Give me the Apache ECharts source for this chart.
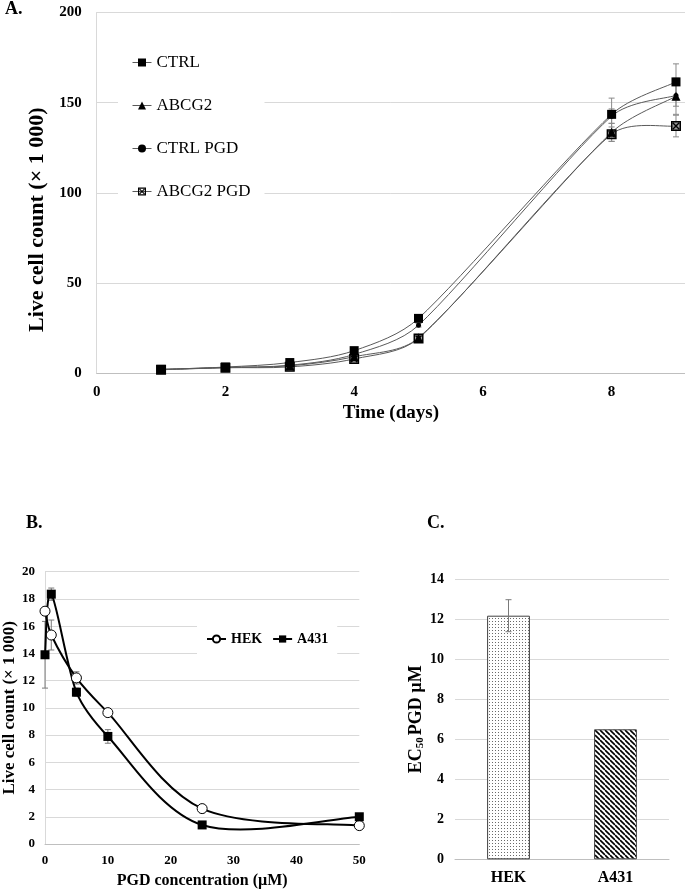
<!DOCTYPE html>
<html><head><meta charset="utf-8">
<script src="https://cdn.jsdelivr.net/npm/echarts@6/dist/echarts.min.js"></script>
<style>html,body{margin:0;padding:0;background:#fff}#c{width:685px;height:890px}</style>
</head><body><div id="c"></div>
<script>
const FONT = "'Times New Roman','Liberation Serif',serif";

// ---- Panel A data ----
const days = [1, 2, 3, 4, 5, 8, 9];
const ctrl      = [2.0, 3.3, 5.8, 12.4, 30.3, 143.5, 161.5];
const abcg2     = [1.9, 3.0, 4.0, 9.0, 19.5, 133.5, 153.5];
const ctrlPgd   = [2.0, 3.1, 4.3, 10.3, 26.5, 142.5, 154.0];
const abcg2Pgd  = [1.8, 2.9, 3.4, 7.8, 19.2, 132.5, 137.0];
const ctrlErr     = [0.3, 0.3, 0.5, 0.8, 1.5, 9, 10];
const abcg2Err    = [0.2, 0.2, 0.3, 0.5, 1.0, 5, 10];
const ctrlPgdErr  = [0.2, 0.2, 0.3, 0.5, 1.0, 4, 6];
const abcg2PgdErr = [0.2, 0.2, 0.3, 0.5, 1.0, 4, 6];
const aNames = ['CTRL', 'ABCG2', 'CTRL PGD', 'ABCG2 PGD'];

// ---- Panel B data ----
const conc = [0, 1, 5, 10, 25, 50];
const hek     = [17.1, 15.35, 12.2, 9.65, 2.6, 1.35];
const hekErr  = [0, 1.1, 0.45, 0.2, 0.3, 0.2];
const a431    = [13.9, 18.35, 11.15, 7.9, 1.4, 2.0];
const a431Err = [2.45, 0.45, 0.3, 0.5, 0.1, 0.1];
const bNames = ['HEK', 'A431'];

// ---- Panel C data ----
const cells = ['HEK', 'A431'];
const ec50 = [12.18, 6.5];
const ec50Err = [0.8, 0];

const XPATH = 'path://M0,0H10V10H0Z M1.5,1.5V8.5H8.5V1.5Z M1.5,2.5L2.5,1.5L8.5,7.5L7.5,8.5Z M7.5,1.5L8.5,2.5L2.5,8.5L1.5,7.5Z';

function pair(xs, ys) { return xs.map((x, i) => [x, ys[i]]); }
function errData(xs, ys, es) { return xs.map((x, i) => [x, ys[i] - es[i], ys[i] + es[i]]); }
function errSeries(xIdx, yIdx, data, color, capW) {
  return {
    type: 'custom', xAxisIndex: xIdx, yAxisIndex: yIdx, silent: true, z: 1,
    encode: { x: 0, y: [1, 2] },
    renderItem(params, api) {
      const x = api.value(0), lo = api.value(1), hi = api.value(2);
      const p1 = api.coord([x, lo]), p2 = api.coord([x, hi]);
      const style = { stroke: color, lineWidth: 1 };
      return { type: 'group', children: [
        { type: 'line', shape: { x1: p1[0], y1: p1[1], x2: p2[0], y2: p2[1] }, style },
        { type: 'line', shape: { x1: p1[0] - capW, y1: p1[1], x2: p1[0] + capW, y2: p1[1] }, style },
        { type: 'line', shape: { x1: p2[0] - capW, y1: p2[1], x2: p2[0] + capW, y2: p2[1] }, style }
      ] };
    },
    data
  };
}
// Smoothed connecting line: Bezier segments through the data points,
// Catmull-Rom tangent (next - prev)/6, handle capped at 1/3 of the segment.
function splineSeries(xIdx, yIdx, xs, ys, color, width) {
  return {
    type: 'custom', xAxisIndex: xIdx, yAxisIndex: yIdx, silent: true, z: 2,
    encode: { x: 0, y: 1 },
    data: pair(xs, ys),
    renderItem(params, api) {
      const i = params.dataIndexInside, n = params.dataInsideLength;
      if (i >= n - 1) return;
      const P = k => { k = Math.max(0, Math.min(n - 1, k)); return api.coord([api.value(0, k), api.value(1, k)]); };
      const p0 = P(i - 1), p1 = P(i), p2 = P(i + 1), p3 = P(i + 2);
      const seg = Math.hypot(p2[0] - p1[0], p2[1] - p1[1]) / 3;
      const handle = (a, b) => {
        const v = [(b[0] - a[0]) / 6, (b[1] - a[1]) / 6];
        const len = Math.hypot(v[0], v[1]) || 1;
        const s = Math.min(1, seg / len);
        return [v[0] * s, v[1] * s];
      };
      const t1 = handle(p0, p2), t2 = handle(p1, p3);
      const c1 = [p1[0] + t1[0], p1[1] + t1[1]];
      const c2 = [p2[0] - t2[0], p2[1] - t2[1]];
      return { type: 'bezierCurve',
        shape: { x1: p1[0], y1: p1[1], x2: p2[0], y2: p2[1], cpx1: c1[0], cpy1: c1[1], cpx2: c2[0], cpy2: c2[1] },
        style: { stroke: color, lineWidth: width, fill: null } };
    }
  };
}

function stipple() {
  const c = document.createElement('canvas'); c.width = c.height = 3;
  const g = c.getContext('2d'); g.fillStyle = '#fff'; g.fillRect(0, 0, 3, 3);
  g.fillStyle = '#6a6a6a'; g.fillRect(0, 0, 1, 1); return c;
}
function stripes() {
  const s = 5; const c = document.createElement('canvas'); c.width = c.height = s;
  const g = c.getContext('2d'); g.fillStyle = '#fff'; g.fillRect(0, 0, s, s);
  g.strokeStyle = '#000'; g.lineWidth = 1.6; g.beginPath();
  for (let k = -1; k <= 1; k++) { g.moveTo(0, k * s); g.lineTo(s, s + k * s); }
  g.stroke(); return c;
}
const patterns = [stipple(), stripes()];

const lbl = (size, extra) => Object.assign({ fontFamily: FONT, fontWeight: 'bold', fontSize: size, color: '#000' }, extra || {});
const gridLine = { show: true, lineStyle: { color: '#d9d9d9', width: 1 } };
const A_LINE = '#5a5a5a';

const aMarks = (name, data, symbol, size) => ({
  type: 'line', name, xAxisIndex: 0, yAxisIndex: 0, z: 4,
  data: pair(days, data), symbol, symbolSize: size, showSymbol: true,
  lineStyle: { color: A_LINE, width: 1, opacity: 0 }, itemStyle: { color: '#000' }
});

const option = {
  animation: false,
  backgroundColor: '#fff',
  textStyle: { fontFamily: FONT },
  grid: [
    { left: 96.7, top: 12.5, width: 588.3, height: 360.5 },
    { left: 42, top: 571.7, width: 317.3, height: 273.3 },
    { left: 455, top: 579.3, width: 214, height: 280 }
  ],
  xAxis: [
    { gridIndex: 0, type: 'value', min: 0, max: 9.14, interval: 2,
      axisLine: { lineStyle: { color: '#bfbfbf' } }, axisTick: { show: false }, splitLine: { show: false },
      axisLabel: lbl(15, { margin: 12, showMaxLabel: false }),
      name: 'Time (days)', nameLocation: 'middle', nameGap: 31, nameTextStyle: lbl(19) },
    { gridIndex: 1, type: 'value', min: 0, max: 50, interval: 10,
      axisLine: { lineStyle: { color: '#bfbfbf' } }, axisTick: { show: false }, splitLine: { show: false },
      axisLabel: lbl(13, { margin: 10 }),
      name: 'PGD concentration (µM)', nameLocation: 'middle', nameGap: 29, nameTextStyle: lbl(16) },
    { gridIndex: 2, type: 'category', data: cells,
      axisLine: { lineStyle: { color: '#bfbfbf' } }, axisTick: { show: false },
      axisLabel: lbl(16, { margin: 11 }) }
  ],
  yAxis: [
    { gridIndex: 0, type: 'value', min: 0, max: 200, interval: 50,
      axisLine: { show: true, lineStyle: { color: '#d9d9d9' } }, axisTick: { show: false }, splitLine: gridLine,
      axisLabel: lbl(15, { margin: 15 }),
      name: 'Live cell count (× 1 000)', nameLocation: 'middle', nameGap: 46, nameRotate: 90,
      nameTextStyle: lbl(22, { padding: [0, 54, 0, 0] }) },
    { gridIndex: 1, type: 'value', min: 0, max: 20, interval: 2,
      axisLine: { show: true, lineStyle: { color: '#d9d9d9' } }, axisTick: { show: false }, splitLine: gridLine,
      axisLabel: lbl(13, { margin: 10 }),
      name: 'Live cell count (× 1 000)', nameLocation: 'middle', nameGap: 27, nameRotate: 90,
      nameTextStyle: lbl(17) },
    { gridIndex: 2, type: 'value', min: 0, max: 14, interval: 2,
      axisLine: { show: false }, axisTick: { show: false }, splitLine: gridLine,
      axisLabel: lbl(14, { margin: 11 }),
      name: '{a|EC}{b|50}{a|PGD µM}', nameLocation: 'middle', nameGap: 27, nameRotate: 90,
      nameTextStyle: lbl(18, { rich: {
        a: lbl(18),
        b: lbl(11, { padding: [9, 2, 0, 0] })
      } }) }
  ],
  legend: [
    { data: aNames, orient: 'vertical', left: 118, top: 48, padding: [6, 14, 6, 14], itemGap: 26,
      itemWidth: 19, itemHeight: 10, backgroundColor: '#fff', selectedMode: false,
      lineStyle: { color: A_LINE, width: 1, opacity: 1 },
      textStyle: { fontFamily: FONT, fontSize: 17, color: '#000' } },
    { data: bNames, orient: 'horizontal', left: 197, top: 622, padding: [10, 9, 10, 9], itemGap: 10,
      itemWidth: 19, itemHeight: 9, backgroundColor: '#fff', selectedMode: false,
      lineStyle: { color: '#000', width: 2, opacity: 1 },
      textStyle: lbl(14) }
  ],
  graphic: [
    { type: 'text', left: 5, top: 0, style: { text: 'A.', font: 'bold 18px ' + FONT, fill: '#000' } },
    { type: 'text', left: 26, top: 514, style: { text: 'B.', font: 'bold 18px ' + FONT, fill: '#000' } },
    { type: 'text', left: 427, top: 514, style: { text: 'C.', font: 'bold 18px ' + FONT, fill: '#000' } }
  ],
  series: [
    errSeries(0, 0, errData(days, ctrl, ctrlErr), '#8a8a8a', 3),
    errSeries(0, 0, errData(days, abcg2, abcg2Err), '#8a8a8a', 3),
    errSeries(0, 0, errData(days, ctrlPgd, ctrlPgdErr), '#8a8a8a', 3),
    errSeries(0, 0, errData(days, abcg2Pgd, abcg2PgdErr), '#8a8a8a', 3),
    splineSeries(0, 0, days, ctrl, A_LINE, 1),
    splineSeries(0, 0, days, abcg2, A_LINE, 1),
    splineSeries(0, 0, days, ctrlPgd, A_LINE, 1),
    splineSeries(0, 0, days, abcg2Pgd, A_LINE, 1),
    { type: 'scatter', xAxisIndex: 0, yAxisIndex: 0, silent: true, z: 3,
      data: pair(days, abcg2Pgd), symbol: 'rect', symbolSize: 9, itemStyle: { color: '#8c8c8c' } },
    aMarks(aNames[0], ctrl, 'rect', 9),
    aMarks(aNames[1], abcg2, 'triangle', 9),
    aMarks(aNames[2], ctrlPgd, 'circle', 5),
    aMarks(aNames[3], abcg2Pgd, XPATH, 10),

    errSeries(1, 1, errData(conc, hek, hekErr), '#7a7a7a', 3),
    errSeries(1, 1, errData(conc, a431, a431Err), '#7a7a7a', 3),
    splineSeries(1, 1, conc, hek, '#000', 2),
    splineSeries(1, 1, conc, a431, '#000', 2),
    { type: 'line', name: bNames[0], xAxisIndex: 1, yAxisIndex: 1, z: 4,
      data: pair(conc, hek), symbol: 'circle', symbolSize: 10,
      lineStyle: { color: '#000', width: 2, opacity: 0 },
      itemStyle: { color: '#fff', borderColor: '#000', borderWidth: 1 } },
    { type: 'line', name: bNames[1], xAxisIndex: 1, yAxisIndex: 1, z: 4,
      data: pair(conc, a431), symbol: 'rect', symbolSize: 9,
      lineStyle: { color: '#000', width: 2, opacity: 0 }, itemStyle: { color: '#000' } },

    { type: 'bar', xAxisIndex: 2, yAxisIndex: 2, barWidth: '40%', z: 2,
      data: ec50.map((v, i) => ({ value: v, itemStyle: { color: { image: patterns[i], repeat: 'repeat' }, borderColor: '#404040', borderWidth: 1 } })) },
    Object.assign(errSeries(2, 2, cells.map((c, i) => [i, ec50[i] - ec50Err[i], ec50[i] + ec50Err[i]]).filter((d, i) => ec50Err[i] > 0), '#7a7a7a', 3), { z: 5 })
  ]
};

const chart = echarts.init(document.getElementById('c'), null, { renderer: 'canvas' });
chart.setOption(option);
</script>
</body></html>
